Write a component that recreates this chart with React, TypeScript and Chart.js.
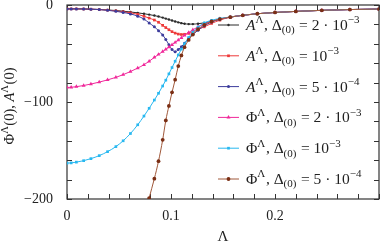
import React, { useEffect, useRef } from 'react';
import { Chart, registerables } from 'chart.js';

Chart.register(...registerables);

// Λ values (shared grid)
const lambdaGrid = [
  0, 0.004, 0.009, 0.016, 0.023, 0.031, 0.039, 0.047, 0.054, 0.061, 0.068, 0.074, 0.079,
  0.084, 0.088, 0.092, 0.095, 0.098, 0.101, 0.104, 0.107, 0.110, 0.113, 0.117, 0.121,
  0.126, 0.132, 0.139, 0.147, 0.157, 0.169, 0.183, 0.200, 0.220, 0.245, 0.272, 0.300,
];

const aDelta2e3 = [
  -4, -4, -4, -4.1, -4.3, -4.6, -5.1, -5.7, -6.4, -7.2, -8.1, -9.0, -9.9,
  -10.9, -11.9, -13, -14, -15, -16, -17, -17.9, -18.7, -19.3, -19.7, -19.7,
  -19.3, -18.4, -16.9, -14.8, -12.4, -10.6, -9.0, -7.7, -6.6, -5.5, -4.7, -4.2,
];

const aDelta1e3 = [
  -4, -4, -4, -4.1, -4.3, -4.7, -5.3, -6.1, -7.0, -8.1, -9.6, -11.6, -13.5,
  -15.5, -17.8, -21, -23.3, -25.5, -27.5, -29, -30, -30.4, -30.2, -29.3, -27.8,
  -25.3, -22.5, -19, -15.6, -12.5, -10.6, -9.0, -7.7, -6.6, -5.5, -4.7, -4.2,
];

const aDelta5e4 = [
  -4, -4, -4, -4.1, -4.3, -4.7, -5.5, -6.5, -7.7, -9.2, -11.5, -14.5, -18.5,
  -22.5, -26.5, -31, -35.5, -41, -46, -48.3, -46, -43, -39.5, -34.5, -30.5,
  -26, -21.5, -17.6, -14.6, -12.5, -10.6, -9.0, -7.7, -6.6, -5.5, -4.7, -4.2,
];

const phiDelta2e3 = [
  -85, -84.8, -84.2, -83, -81.5, -79.5, -77.2, -74.6, -71.8, -68.6, -65, -61.6, -58,
  -54, -51, -48, -45.7, -43.4, -41, -38.6, -36.2, -33.8, -31.4, -28.4, -25.6,
  -22.6, -19.6, -16.8, -14.3, -12.4, -10.6, -9.0, -7.7, -6.6, -5.5, -4.7, -4.2,
];

const phiDelta1e3 = [
  -163, -162.8, -162, -160.5, -158.4, -155.3, -151.2, -146, -140, -132.5, -123.5, -114.5, -106.5,
  -98, -91, -83.5, -77.5, -71, -64.5, -58, -51.5, -45.5, -40, -33.5, -28,
  -22.8, -18.5, -15.8, -13.8, -12.4, -10.6, -9.0, -7.7, -6.6, -5.5, -4.7, -4.2,
];

const phiDelta5e4 = [
  null, null, null, null, null, null, null, null, null, null, -262, -222, -199,
  -179, -161, -139, -119, -104, -90, -77, -63, -52, -43.5, -36, -30.5,
  -25, -20.5, -17, -14.5, -12.5, -10.6, -9.0, -7.7, -6.6, -5.5, -4.7, -4.2,
];

const xTickValues = [0, 0.1, 0.2, 0.3];
const yTickValues = [0, -100, -200];

type Part = { t: string; m?: 'sup' | 'sub'; it?: boolean };

const legendLabels: Part[][] = [
  [{ t: 'A', it: true }, { t: 'Λ', m: 'sup' }, { t: ', Δ' }, { t: '(0)', m: 'sub' }, { t: ' = 2 · 10' }, { t: '−3', m: 'sup' }],
  [{ t: 'A', it: true }, { t: 'Λ', m: 'sup' }, { t: ', Δ' }, { t: '(0)', m: 'sub' }, { t: ' = 10' }, { t: '−3', m: 'sup' }],
  [{ t: 'A', it: true }, { t: 'Λ', m: 'sup' }, { t: ', Δ' }, { t: '(0)', m: 'sub' }, { t: ' = 5 · 10' }, { t: '−4', m: 'sup' }],
  [{ t: 'Φ' }, { t: 'Λ', m: 'sup' }, { t: ', Δ' }, { t: '(0)', m: 'sub' }, { t: ' = 2 · 10' }, { t: '−3', m: 'sup' }],
  [{ t: 'Φ' }, { t: 'Λ', m: 'sup' }, { t: ', Δ' }, { t: '(0)', m: 'sub' }, { t: ' = 10' }, { t: '−3', m: 'sup' }],
  [{ t: 'Φ' }, { t: 'Λ', m: 'sup' }, { t: ', Δ' }, { t: '(0)', m: 'sub' }, { t: ' = 5 · 10' }, { t: '−4', m: 'sup' }],
];

const yTitle: Part[] = [{ t: 'Φ' }, { t: 'Λ', m: 'sup' }, { t: '(0), ' }, { t: 'A', it: true }, { t: 'Λ', m: 'sup' }, { t: '(0)' }];
const xTitle: Part[] = [{ t: 'Λ' }];

const seriesValues = [aDelta2e3, aDelta1e3, aDelta5e4, phiDelta2e3, phiDelta1e3, phiDelta5e4];

const seriesStyles = [
  { line: '#2a2a2a', marker: '#2a2a2a', shape: 'circle', r: 1.2 },
  { line: '#ee3a3a', marker: '#ee3a3a', shape: 'rect', r: 1.9 },
  { line: '#3c3c9c', marker: '#3c3c9c', shape: 'circle', r: 1.5 },
  { line: '#f0289a', marker: '#f0289a', shape: 'triangle', r: 2.3 },
  { line: '#28b8f0', marker: '#28b8f0', shape: 'rect', r: 1.9 },
  { line: '#a0583a', marker: '#7a2e14', shape: 'circle', r: 1.9 },
];

const FONT = '"Liberation Serif", "DejaVu Serif", serif';
const TEXT = '#222';

function partFont(p: Part, base: number) {
  const size = p.m ? Math.round(base * 0.72 * 2) / 2 : base;
  return `${p.it ? 'italic ' : ''}${size}px ${FONT}`;
}

function richWidth(ctx: CanvasRenderingContext2D, parts: Part[], base: number) {
  let w = 0;
  for (const p of parts) {
    ctx.font = partFont(p, base);
    w += ctx.measureText(p.t).width + (p.m ? 0.6 : 0);
  }
  return w;
}

function drawRich(ctx: CanvasRenderingContext2D, parts: Part[], x: number, y: number, base: number) {
  ctx.textBaseline = 'alphabetic';
  ctx.textAlign = 'left';
  ctx.fillStyle = TEXT;
  let cx = x;
  for (const p of parts) {
    ctx.font = partFont(p, base);
    const dy = p.m === 'sup' ? -base * 0.42 : p.m === 'sub' ? base * 0.22 : 0;
    ctx.fillText(p.t, cx, y + dy);
    cx += ctx.measureText(p.t).width + (p.m ? 0.6 : 0);
  }
}

function drawMarker(ctx: CanvasRenderingContext2D, shape: string, x: number, y: number, r: number, color: string) {
  ctx.fillStyle = color;
  ctx.beginPath();
  if (shape === 'circle') {
    ctx.arc(x, y, r, 0, Math.PI * 2);
  } else if (shape === 'rect') {
    const s = r * Math.SQRT1_2;
    ctx.rect(x - s, y - s, 2 * s, 2 * s);
  } else {
    const h = (r * 3) / Math.sqrt(3);
    ctx.moveTo(x, y - r);
    ctx.lineTo(x + h / 2, y + r / 2);
    ctx.lineTo(x - h / 2, y + r / 2);
    ctx.closePath();
  }
  ctx.fill();
}

const framePlugin = {
  id: 'frameTicks',
  beforeDatasetsDraw(chart: any) {
    const { ctx, chartArea } = chart;
    const { left, right, top, bottom } = chartArea;
    const xs = chart.scales.x;
    const ys = chart.scales.y;
    ctx.save();
    ctx.strokeStyle = '#333';
    ctx.lineWidth = 1;
    ctx.beginPath();
    for (let i = 0; i <= 15; i++) {
      const px = Math.round(xs.getPixelForValue(i * 0.02)) + 0.5;
      ctx.moveTo(px, bottom);
      ctx.lineTo(px, bottom - 5);
      ctx.moveTo(px, top);
      ctx.lineTo(px, top + 5);
    }
    for (let i = 0; i <= 10; i++) {
      const py = Math.round(ys.getPixelForValue(-i * 20)) + 0.5;
      ctx.moveTo(left, py);
      ctx.lineTo(left + 5, py);
      ctx.moveTo(right, py);
      ctx.lineTo(right - 5, py);
    }
    ctx.stroke();
    ctx.lineWidth = 1.2;
    ctx.strokeRect(left, top, right - left, bottom - top);
    ctx.restore();
  },
  afterDraw(chart: any) {
    const { ctx, chartArea } = chart;
    ctx.save();
    // legend
    legendLabels.forEach((parts, i) => {
      const y = 25 + i * 30.8;
      const st = seriesStyles[i];
      ctx.strokeStyle = st.line;
      ctx.lineWidth = 1;
      ctx.beginPath();
      ctx.moveTo(218, y);
      ctx.lineTo(239, y);
      ctx.stroke();
      drawMarker(ctx, st.shape, 228.5, y, st.r, st.marker);
      drawRich(ctx, parts, 246, y + 5, 15.5);
    });
    // x title
    const xw = richWidth(ctx, xTitle, 15);
    drawRich(ctx, xTitle, (chartArea.left + chartArea.right) / 2 - xw / 2, 241, 15);
    // y title
    const yw = richWidth(ctx, yTitle, 14.5);
    ctx.translate(14, (chartArea.top + chartArea.bottom) / 2 + 4);
    ctx.rotate(-Math.PI / 2);
    drawRich(ctx, yTitle, -yw / 2, 0, 14.5);
    ctx.restore();
  },
};

export default function App() {
  const ref = useRef<HTMLCanvasElement>(null);
  useEffect(() => {
    const datasets = seriesValues.map((vals, i) => ({
      label: `s${i}`,
      data: lambdaGrid.map((x, j) => ({ x, y: vals[j] })),
      borderColor: seriesStyles[i].line,
      backgroundColor: seriesStyles[i].marker,
      pointBackgroundColor: seriesStyles[i].marker,
      pointBorderColor: seriesStyles[i].marker,
      pointBorderWidth: 0,
      pointStyle: seriesStyles[i].shape,
      pointRadius: seriesStyles[i].r,
      borderWidth: 1,
      cubicInterpolationMode: 'monotone' as const,
      spanGaps: false,
      order: 5 - i,
    }));
    const chart = new Chart(ref.current!, {
      type: 'line',
      data: { datasets: datasets as any },
      options: {
        animation: false,
        responsive: true,
        maintainAspectRatio: false,
        layout: { padding: { top: 5, right: 1, left: 0, bottom: 0 } },
        plugins: { legend: { display: false }, tooltip: { enabled: false } },
        scales: {
          x: {
            type: 'linear',
            min: 0,
            max: 0.3,
            grid: { display: false, drawTicks: false },
            border: { display: false },
            afterBuildTicks: (s: any) => {
              s.ticks = xTickValues.map((v) => ({ value: v }));
            },
            ticks: {
              autoSkip: false,
              maxRotation: 0,
              padding: 9,
              color: TEXT,
              font: { family: FONT, size: 14 },
              callback: (v: any) => {
                const r = Math.round(Number(v) * 10) / 10;
                if (r >= 0.3) return '';
                return r === 0 ? '0' : String(r);
              },
            },
            afterFit: (s: any) => {
              s.height = 45;
              s.paddingLeft = 0;
              s.paddingRight = 0;
            },
          },
          y: {
            type: 'linear',
            min: -200,
            max: 0,
            grid: { display: false, drawTicks: false },
            border: { display: false },
            afterBuildTicks: (s: any) => {
              s.ticks = yTickValues.map((v) => ({ value: v }));
            },
            ticks: {
              padding: 14,
              color: TEXT,
              font: { family: FONT, size: 14 },
              callback: (v: any) => (Number(v) === 0 ? '0' : '−' + Math.abs(Number(v))),
            },
            afterFit: (s: any) => {
              s.width = 67;
              s.paddingTop = 0;
              s.paddingBottom = 0;
            },
          },
        },
      },
      plugins: [framePlugin],
    });
    return () => chart.destroy();
  }, []);
  return (
    <div style={{ position: 'absolute', left: 0, top: 0, width: 383, height: 244 }}>
      <canvas ref={ref} />
    </div>
  );
}
